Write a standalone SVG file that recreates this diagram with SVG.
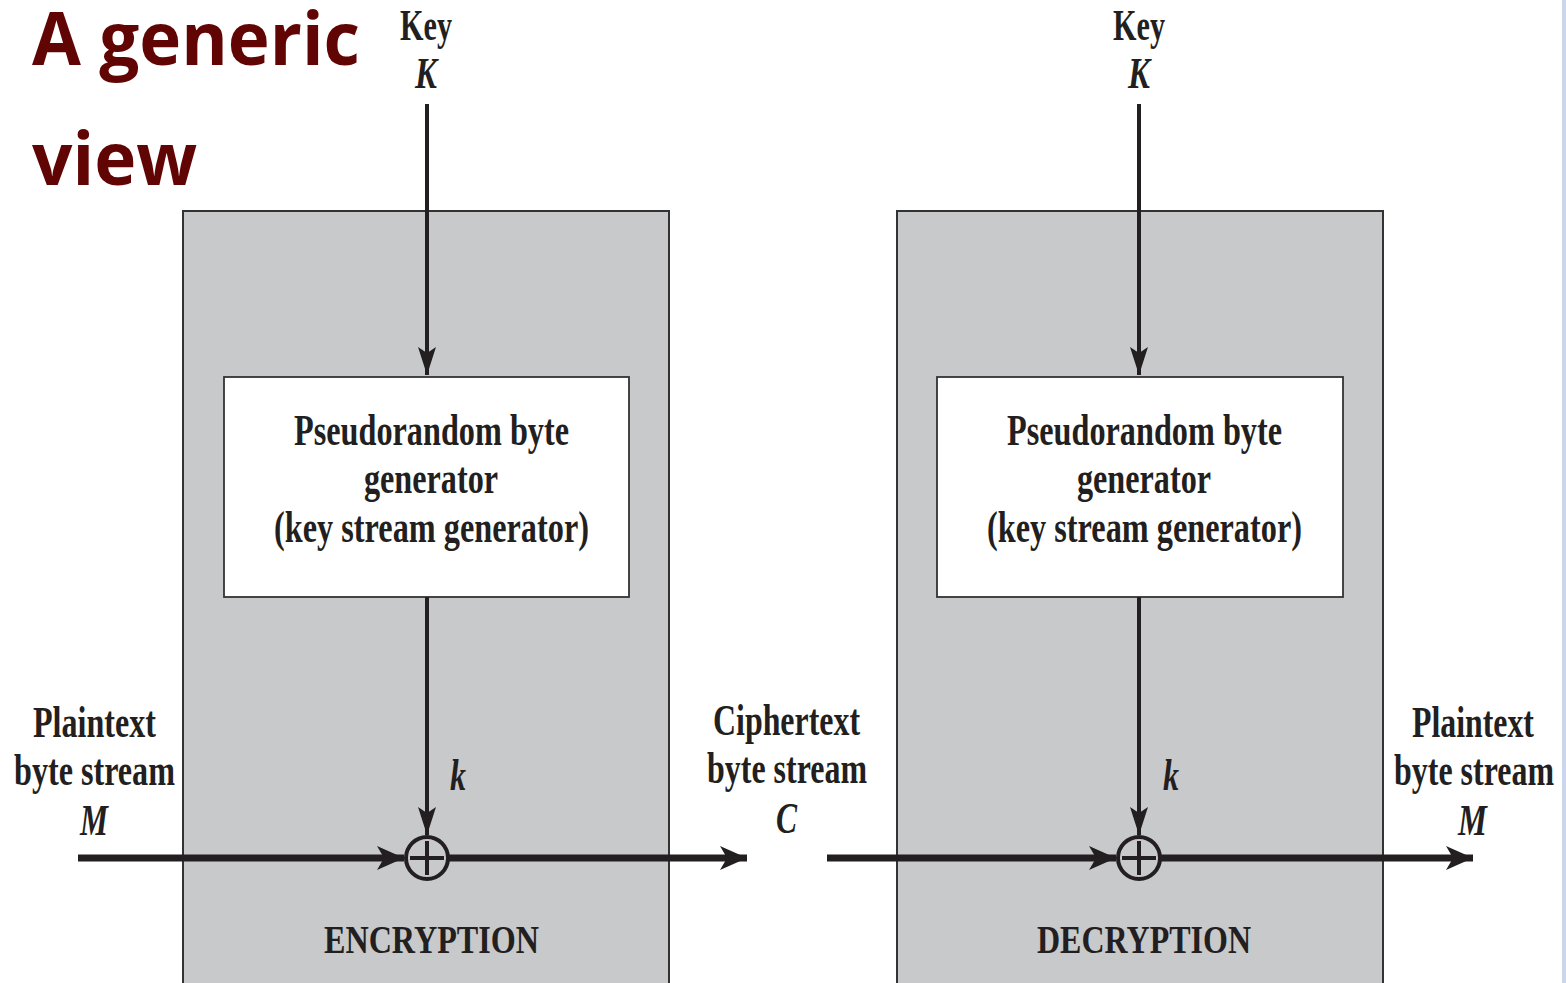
<svg xmlns="http://www.w3.org/2000/svg" width="1566" height="983" viewBox="0 0 1566 983">
  <style>
    .title { font-family: "Open Sans", "Liberation Sans", sans-serif; font-weight: bold; font-size: 74px; fill: #610404; }
    .lbl { font-family: "Liberation Serif", serif; font-weight: bold; font-size: 44px; fill: #231f20; }
    .it { font-style: italic; }
    .cap { font-size: 40px; }
    .panel { fill: #c8c9cb; stroke: #333333; stroke-width: 2; }
    .gen { fill: #ffffff; stroke: #333333; stroke-width: 1.8; }
    .thin { stroke: #231f20; stroke-width: 4; fill: none; }
    .thick { stroke: #231f20; stroke-width: 7; fill: none; }
    .xor { fill: none; stroke: #231f20; stroke-width: 4; }
  </style>
  <defs>
    <marker id="ah-v" markerUnits="userSpaceOnUse" markerWidth="30" markerHeight="30" viewBox="-28 -10 30 20" refX="0" refY="0" orient="auto">
      <path d="M0,0 L-28,-9 L-22,0 L-28,9 Z" fill="#231f20"/>
    </marker>
    <marker id="ah-h" markerUnits="userSpaceOnUse" markerWidth="30" markerHeight="30" viewBox="-28 -13 30 26" refX="0" refY="0" orient="auto">
      <path d="M0,0 L-27,-12 L-20,0 L-27,12 Z" fill="#231f20"/>
    </marker>
  </defs>

  <rect width="1566" height="983" fill="#ffffff"/>
  <rect x="1562" y="0" width="4" height="983" fill="#c9d6ee"/>

  <g id="title">
    <text class="title" x="32" y="65" textLength="328" lengthAdjust="spacingAndGlyphs">A generic</text>
    <text class="title" x="32" y="185" textLength="165" lengthAdjust="spacingAndGlyphs">view</text>
  </g>

  <!-- encryption side; serif labels are condensed horizontally to 73% -->
  <g id="enc-panel">
    <rect class="panel" x="183" y="211" width="486" height="780"/>
    <text class="lbl cap" transform="translate(324,953) scale(0.73,1)" textLength="294.5" lengthAdjust="spacingAndGlyphs">ENCRYPTION</text>
  </g>
  <g id="enc-generator">
    <rect class="gen" x="224" y="377" width="405" height="220"/>
    <text class="lbl" transform="translate(294,445) scale(0.73,1)" textLength="376.7" lengthAdjust="spacingAndGlyphs">Pseudorandom byte</text>
    <text class="lbl" transform="translate(364,493) scale(0.73,1)" textLength="183.6" lengthAdjust="spacingAndGlyphs">generator</text>
    <text class="lbl" transform="translate(274,542) scale(0.73,1)" textLength="431.5" lengthAdjust="spacingAndGlyphs">(key stream generator)</text>
  </g>
  <g id="enc-key">
    <text class="lbl" transform="translate(400,40) scale(0.73,1)" textLength="71.2" lengthAdjust="spacingAndGlyphs">Key</text>
    <text class="lbl it" transform="translate(415,88) scale(0.73,1)" textLength="30.1" lengthAdjust="spacingAndGlyphs">K</text>
  </g>
  <g id="enc-xor">
    <circle class="xor" cx="427" cy="858" r="21"/>
    <path class="xor" d="M427,841 V875 M410,858 H444"/>
    <text class="lbl it" transform="translate(450,790) scale(0.73,1)" textLength="21.9" lengthAdjust="spacingAndGlyphs">k</text>
  </g>
  <g id="enc-input">
    <text class="lbl" transform="translate(33,737) scale(0.73,1)" textLength="168.5" lengthAdjust="spacingAndGlyphs">Plaintext</text>
    <text class="lbl" transform="translate(14,785) scale(0.73,1)" textLength="220.5" lengthAdjust="spacingAndGlyphs">byte stream</text>
    <text class="lbl it" transform="translate(80,835) scale(0.73,1)" textLength="38.4" lengthAdjust="spacingAndGlyphs">M</text>
  </g>
  <g id="enc-output">
    <text class="lbl" transform="translate(713,735) scale(0.73,1)" textLength="201.4" lengthAdjust="spacingAndGlyphs">Ciphertext</text>
    <text class="lbl" transform="translate(707,783) scale(0.73,1)" textLength="219.2" lengthAdjust="spacingAndGlyphs">byte stream</text>
    <text class="lbl it" transform="translate(776,833) scale(0.73,1)" textLength="28.8" lengthAdjust="spacingAndGlyphs">C</text>
  </g>

  <!-- decryption side -->
  <g id="dec-panel">
    <rect class="panel" x="897" y="211" width="486" height="780"/>
    <text class="lbl cap" transform="translate(1037,953) scale(0.73,1)" textLength="293.2" lengthAdjust="spacingAndGlyphs">DECRYPTION</text>
  </g>
  <g id="dec-generator">
    <rect class="gen" x="937" y="377" width="406" height="220"/>
    <text class="lbl" transform="translate(1007,445) scale(0.73,1)" textLength="376.7" lengthAdjust="spacingAndGlyphs">Pseudorandom byte</text>
    <text class="lbl" transform="translate(1077,493) scale(0.73,1)" textLength="183.6" lengthAdjust="spacingAndGlyphs">generator</text>
    <text class="lbl" transform="translate(987,542) scale(0.73,1)" textLength="431.5" lengthAdjust="spacingAndGlyphs">(key stream generator)</text>
  </g>
  <g id="dec-key">
    <text class="lbl" transform="translate(1113,40) scale(0.73,1)" textLength="71.2" lengthAdjust="spacingAndGlyphs">Key</text>
    <text class="lbl it" transform="translate(1128,88) scale(0.73,1)" textLength="30.1" lengthAdjust="spacingAndGlyphs">K</text>
  </g>
  <g id="dec-xor">
    <circle class="xor" cx="1139" cy="858" r="21"/>
    <path class="xor" d="M1139,841 V875 M1122,858 H1156"/>
    <text class="lbl it" transform="translate(1163,790) scale(0.73,1)" textLength="21.9" lengthAdjust="spacingAndGlyphs">k</text>
  </g>
  <g id="dec-output">
    <text class="lbl" transform="translate(1412,737) scale(0.73,1)" textLength="167.1" lengthAdjust="spacingAndGlyphs">Plaintext</text>
    <text class="lbl" transform="translate(1394,785) scale(0.73,1)" textLength="219.2" lengthAdjust="spacingAndGlyphs">byte stream</text>
    <text class="lbl it" transform="translate(1458,835) scale(0.73,1)" textLength="39.7" lengthAdjust="spacingAndGlyphs">M</text>
  </g>

  <g id="connectors">
    <!-- key into generator -->
    <line class="thin" x1="427" y1="104" x2="427" y2="375" marker-end="url(#ah-v)"/>
    <line class="thin" x1="1139" y1="104" x2="1139" y2="375" marker-end="url(#ah-v)"/>
    <!-- key stream into xor -->
    <line class="thin" x1="427" y1="597" x2="427" y2="835" marker-end="url(#ah-v)"/>
    <line class="thin" x1="1139" y1="597" x2="1139" y2="835" marker-end="url(#ah-v)"/>
    <!-- data streams -->
    <line class="thick" x1="78" y1="858" x2="404" y2="858" marker-end="url(#ah-h)"/>
    <line class="thick" x1="448" y1="858" x2="747" y2="858" marker-end="url(#ah-h)"/>
    <line class="thick" x1="827" y1="858" x2="1116" y2="858" marker-end="url(#ah-h)"/>
    <line class="thick" x1="1160" y1="858" x2="1473" y2="858" marker-end="url(#ah-h)"/>
  </g>
</svg>
